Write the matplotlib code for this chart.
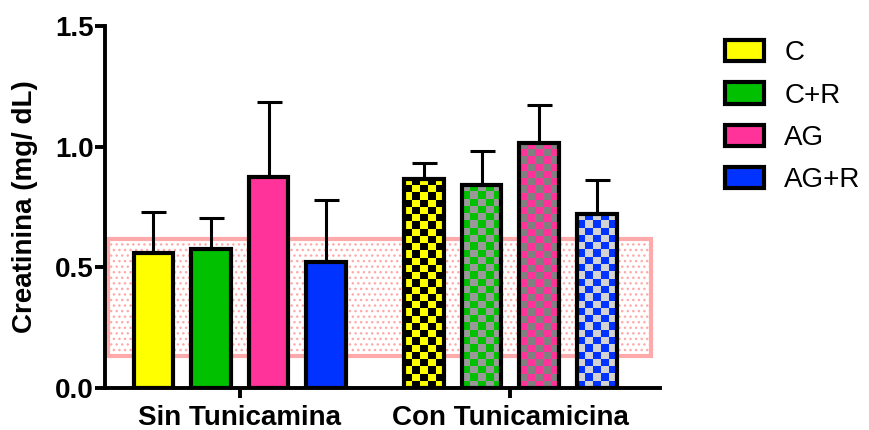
import numpy as np
import matplotlib
matplotlib.use("Agg")
from matplotlib import pyplot as plt
from matplotlib.patches import Patch, Rectangle
from matplotlib.colors import ListedColormap

plt.rcParams['font.family'] = ['Liberation Sans', 'DejaVu Sans']

# data
groups = ['Sin Tunicamina', 'Con Tunicamicina']
series = ['C', 'C+R', 'AG', 'AG+R']
sin_means = [0.56, 0.577, 0.875, 0.523]
sin_err = [0.17, 0.128, 0.31, 0.257]
con_means = [0.867, 0.842, 1.017, 0.722]
con_err = [0.067, 0.141, 0.157, 0.141]
ref_low = 0.133
ref_high = 0.618

colors = ['#ffff00', '#00c000', '#ff3399', '#0033ff']
checker_colors = ['#000000', '#999999', '#808080', '#d3d3d3']

fig = plt.figure(figsize=(8.7, 4.3), dpi=100)
ax = fig.add_axes([0.1207, 0.0977, 0.6379, 0.8418])

width = 0.69
gap = 1.7
sin_x = np.arange(4)
con_x = np.arange(4) + 4 - 1 + gap

xmin, xmax = -0.84, 8.8
ax.set_xlim(xmin, xmax)
ax.set_ylim(0, 1.5)

# reference range band
band = Rectangle((xmin + 0.05, ref_low), 8.64 - xmin - 0.05, ref_high - ref_low,
                 facecolor='white', edgecolor='#ffaaaa', hatch='...',
                 linewidth=3, zorder=1)
ax.add_patch(band)

# error bars (upper only)
for xs, m, e in [(sin_x, sin_means, sin_err), (con_x, con_means, con_err)]:
    ax.errorbar(xs, m, yerr=[np.zeros(len(e)), e], fmt='none', ecolor='black',
                elinewidth=2.2, capsize=9, capthick=2.2, zorder=2)

# plain bars
ax.bar(sin_x, sin_means, width=width, color=colors, edgecolor='black',
       linewidth=3, zorder=3)

# checkered bars
con_bars = ax.bar(con_x, con_means, width=width, color='none', edgecolor='black',
                  linewidth=3, zorder=5)
for i, b in enumerate(con_bars):
    x0 = b.get_x()
    h = b.get_height()
    ny = int(round(h / 0.03))
    img = (np.add.outer(np.arange(ny), np.arange(5)) % 2)
    im = ax.imshow(img, cmap=ListedColormap([colors[i], checker_colors[i]]),
                   extent=(x0, x0 + b.get_width(), 0, h), origin='lower',
                   aspect='auto', interpolation='nearest', zorder=4)
    im.set_clip_path(b)

ax.set_xlim(xmin, xmax)
ax.set_ylim(0, 1.5)

for s in ['top', 'right']:
    ax.spines[s].set_visible(False)
ax.spines['left'].set_linewidth(2.8)
ax.spines['bottom'].set_linewidth(2.8)
ax.spines['left'].set_bounds(0, 1.5)

ax.set_yticks([0, 0.5, 1.0, 1.5])
ax.set_yticklabels(['0.0', '0.5', '1.0', '1.5'])
ax.set_xticks([sin_x.mean(), con_x.mean()])
ax.set_xticklabels(groups)
ax.tick_params(axis='both', length=7, width=2.8, labelsize=20, direction='out', pad=1)
ax.tick_params(axis='x', pad=5)
for lab in ax.get_xticklabels() + ax.get_yticklabels():
    lab.set_fontweight('bold')
ax.set_ylabel('Creatinina (mg/ dL)', fontsize=20, fontweight='bold', labelpad=12)

handles = [Patch(facecolor=c, edgecolor='black', linewidth=3) for c in colors]
fig.legend(handles, series, loc='upper left', bbox_to_anchor=(0.833, 0.907),
           frameon=False, fontsize=20, handlelength=1.4, handleheight=0.8,
           labelspacing=0.58, handletextpad=0.75, borderaxespad=0, borderpad=0)

fig.savefig('out.png', dpi=100)
